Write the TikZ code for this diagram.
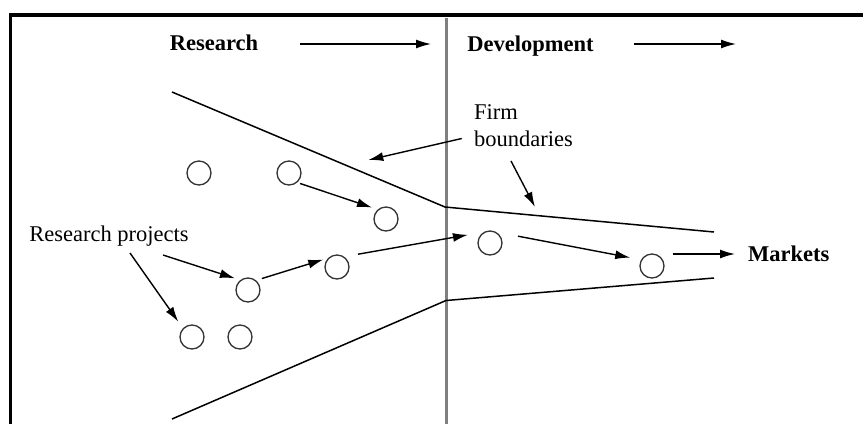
\documentclass[tikz,border=0pt]{standalone}
\usepackage{fontspec}
\setmainfont{Liberation Serif}
\usetikzlibrary{arrows.meta}

\begin{document}
\begin{tikzpicture}[
        x=1pt, y=-1pt,
        every node/.style={font=\fontsize{22.5}{27.4}\selectfont, inner sep=0pt},
        head/.style={font=\fontsize{22.5}{27.4}\selectfont\bfseries},
        proj/.style={circle, draw=black!80, line width=1.3pt, minimum size=24pt},
        flow/.style={-{Latex[length=15pt,width=9pt]}, line width=1.4pt},
        bound/.style={line width=1.5pt},
        frame/.style={line width=3.8pt},
        divide/.style={draw=black!50, line width=2.5pt}
    ]
    \useasboundingbox (0,0) rectangle (863,424);

    % ================= frame and split =========================
    \draw[frame] (10.5,424) -- (10.5,15) -- (863,15);
    \draw[divide] (446.5,18) -- (446.5,424);

    % headings
    \node[head, anchor=base] (res) at (214,50.7) {Research};
    \node[head, anchor=base] (dev) at (530.5,51) {Development};
    \coordinate (resA) at (300,44);
    \coordinate (resB) at (431,44);
    \coordinate (devA) at (634,44);
    \coordinate (devB) at (736,44);
    \draw[flow] (resA) -- (resB);
    \draw[flow] (devA) -- (devB);

    % firm boundaries (funnel)
    \draw[bound] (172,92) -- (445,207) -- (714,232);
    \draw[bound] (172,419) -- (446,300.5) -- (714,278);

    % ================= projects =========================
    \foreach \n/\x/\y in {r1/199/173, r2/289/173, r3/386/219, r4/337/267,
            r5/248/290, r6/192/337, r7/240/337, d1/490/243, d2/652/266}
    \node[proj] (\n) at (\x,\y) {};

    \foreach \a/\b/\s/\t in {r2.-49/r3.131/3pt/6pt, r5.50/r4.135/6pt/5pt,
            r4.55/d1.120/14pt/16pt, d1.60/d2.150/22pt/11pt}
    \draw[flow, shorten <=\s, shorten >=\t] (\a) -- (\b);

    \node[head, anchor=base west] (mkt) at (748,261.7) {Markets};
    \draw[flow, shorten <=8pt, shorten >=13pt] (d2.east |- mkt.west) -- (mkt.west);

    % labels
    \node[anchor=base] (plabel) at (109,241.7) {Research projects};
    \coordinate (projA) at (163,255);
    \coordinate (projB) at (130,253);
    \draw[flow, shorten >=5.6pt] (projA) -- (r5.128);
    \draw[flow, shorten >=8pt] (projB) -- (r6.136);

    \node[anchor=west, align=left] (firm) at (474,125.5) {Firm\\boundaries};
    \coordinate (firmA) at (461.7,138.5);
    \coordinate (firmTipA) at (368.3,160);
    \coordinate (firmB) at (511,161);
    \coordinate (firmTipB) at (535,207);
    \draw[flow] (firmA) -- (firmTipA);
    \draw[flow] (firmB) -- (firmTipB);
\end{tikzpicture}
\end{document}
